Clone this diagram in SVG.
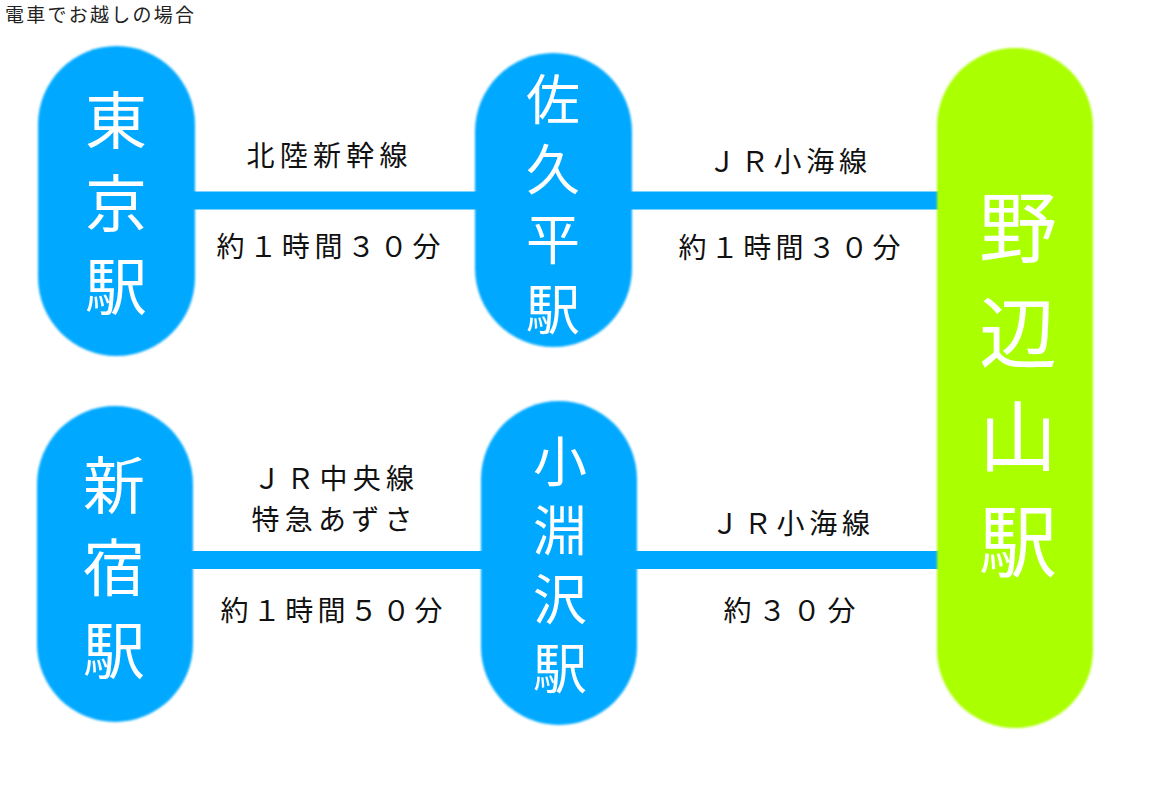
<svg xmlns="http://www.w3.org/2000/svg" width="1153" height="801" viewBox="0 0 1153 801">
<style>
.blue{fill:#00A9FF}
.green{fill:#AAFF00}
.node{filter:url(#soft)}
.nt{font-family:"Noto Sans CJK JP","Noto Sans CJK SC",sans-serif;font-weight:400;fill:#FFFFFF;writing-mode:vertical-rl;text-orientation:upright}
.lb{font-family:"Noto Sans CJK JP","Noto Sans CJK SC",sans-serif;font-weight:400;font-size:28px;fill:#111111}
.title{font-family:"Noto Sans CJK JP","Noto Sans CJK SC",sans-serif;font-weight:400;font-size:19px;fill:#222222}
</style>
<defs>
<filter id="soft" x="-10%" y="-10%" width="120%" height="120%">
<feGaussianBlur stdDeviation="1.3"/>
</filter>
</defs>
<rect width="1153" height="801" fill="#FFFFFF"/>
<text class="title" x="5" y="22" textLength="189" lengthAdjust="spacing">電車でお越しの場合</text>
<g id="connectors">
<rect class="blue" x="180" y="191.5" width="770" height="18"/>
<rect class="blue" x="180" y="551" width="770" height="18"/>
</g>
<g id="labels">
<text class="lb" x="246.5" y="165.5" textLength="161" lengthAdjust="spacing">北陸新幹線</text>
<text class="lb" x="216.5" y="257" textLength="224" lengthAdjust="spacing">約１時間３０分</text>
<text class="lb" x="708" y="172" textLength="159" lengthAdjust="spacing">ＪＲ小海線</text>
<text class="lb" x="678.5" y="258" textLength="222" lengthAdjust="spacing">約１時間３０分</text>
<text class="lb" x="253" y="488.5" textLength="161" lengthAdjust="spacing">ＪＲ中央線</text>
<text class="lb" x="251.5" y="529.5" textLength="161" lengthAdjust="spacing">特急あずさ</text>
<text class="lb" x="220.5" y="620.5" textLength="222" lengthAdjust="spacing">約１時間５０分</text>
<text class="lb" x="711" y="533.5" textLength="159" lengthAdjust="spacing">ＪＲ小海線</text>
<text class="lb" x="723.5" y="620.5" textLength="132" lengthAdjust="spacing">約３０分</text>
</g>
<g id="tokyo">
<rect class="blue node" x="38" y="46" width="157" height="310" rx="78.5"/>
<text class="nt" font-size="62" letter-spacing="21" x="116" y="89">東京駅</text>
</g>
<g id="shinjuku">
<rect class="blue node" x="37" y="406" width="156" height="316" rx="78"/>
<text class="nt" font-size="62" letter-spacing="20.5" x="114" y="454">新宿駅</text>
</g>
<g id="sakudaira">
<rect class="blue node" x="475" y="53" width="157" height="294" rx="78.5"/>
<text class="nt" font-size="54" letter-spacing="16" x="553" y="72">佐久平駅</text>
</g>
<g id="kobuchizawa">
<rect class="blue node" x="481" y="401" width="156" height="324" rx="78"/>
<text class="nt" font-size="54" letter-spacing="15.3" x="560" y="434">小淵沢駅</text>
</g>
<g id="nobeyama">
<rect class="green node" x="937" y="48" width="156" height="680" rx="78"/>
<text class="nt" font-size="78" letter-spacing="26.7" x="1018" y="188.4">野辺山駅</text>
</g>
</svg>
